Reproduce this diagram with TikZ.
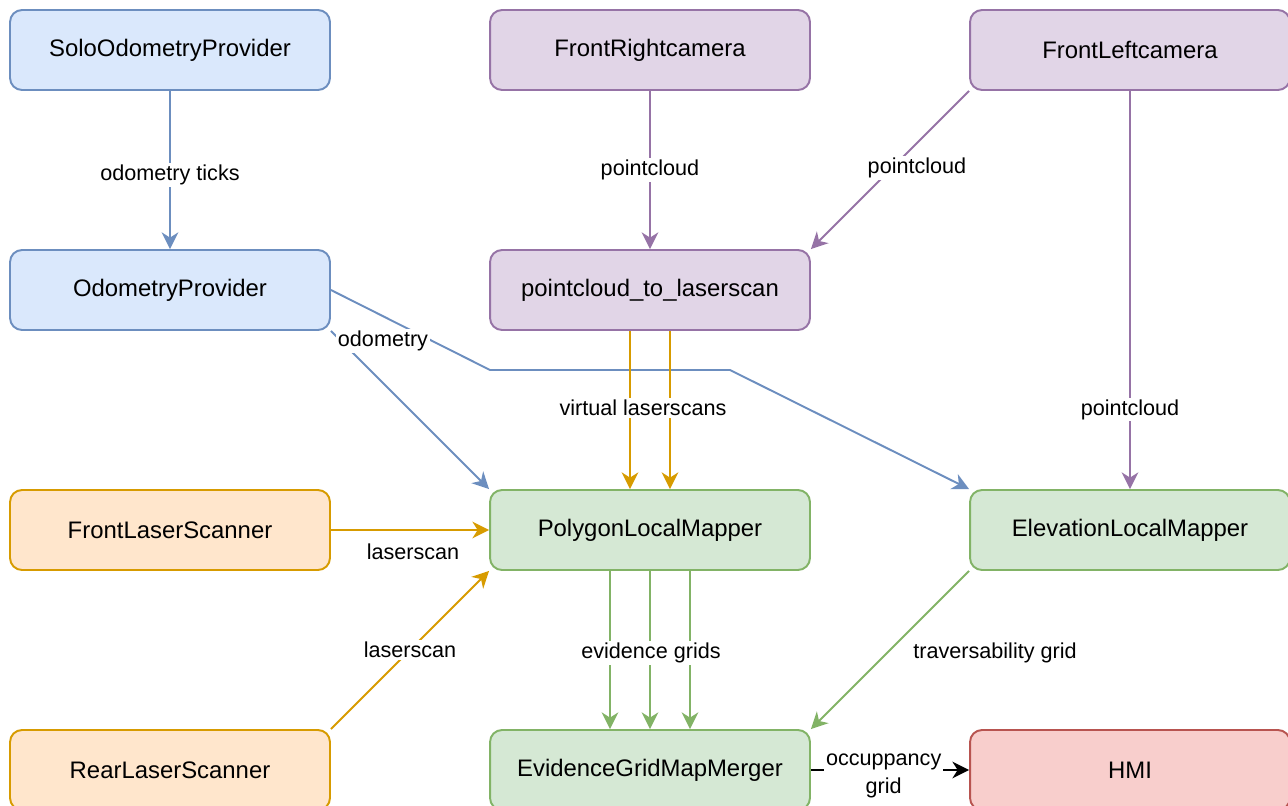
\documentclass[tikz,border=0pt]{standalone}
\usepackage{fontspec}
\setmainfont{Liberation Sans}
\usetikzlibrary{arrows.meta}

\definecolor{blueFill}{HTML}{DAE8FC}
\definecolor{blueLine}{HTML}{6C8EBF}
\definecolor{purpleFill}{HTML}{E1D5E7}
\definecolor{purpleLine}{HTML}{9673A6}
\definecolor{orangeFill}{HTML}{FFE6CC}
\definecolor{orangeLine}{HTML}{D79B00}
\definecolor{greenFill}{HTML}{D5E8D4}
\definecolor{greenLine}{HTML}{82B366}
\definecolor{redFill}{HTML}{F8CECC}
\definecolor{redLine}{HTML}{B85450}

\begin{document}
\begin{tikzpicture}[x=0.02cm, y=-0.02cm,
    box/.style={draw, rounded corners=0.24cm, line width=1.1pt, minimum width=6.4cm,
        minimum height=1.6cm, inner sep=0pt, font=\fontsize{13.6}{16}\selectfont},
    bluebox/.style={box, fill=blueFill, draw=blueLine},
    purplebox/.style={box, fill=purpleFill, draw=purpleLine},
    orangebox/.style={box, fill=orangeFill, draw=orangeLine},
    greenbox/.style={box, fill=greenFill, draw=greenLine},
    redbox/.style={box, fill=redFill, draw=redLine},
    flow/.style={line width=1.1pt, -{Stealth[length=9.5pt, width=9.5pt, inset=3pt]}},
    lbl/.style={fill=white, inner sep=1pt, font=\fontsize{12.3}{15.8}\selectfont, align=center}]
    \useasboundingbox (0,0) rectangle (1288,805);
    \clip (0,0) rectangle (1288,805);

    % Sources
    \node[bluebox] (solo) at (170,50) {SoloOdometryProvider};
    \node[purplebox] (frontright) at (650,50) {FrontRightcamera};
    \node[purplebox] (frontleft) at (1130,50) {FrontLeftcamera};

    % Preprocessing
    \node[bluebox] (odom) at (170,290) {OdometryProvider};
    \node[purplebox] (pc2scan) at (650,290) {pointcloud\_to\_laserscan};

    % Mappers
    \node[orangebox] (frontscan) at (170,530) {FrontLaserScanner};
    \node[greenbox] (polymap) at (650,530) {PolygonLocalMapper};
    \node[greenbox] (elevmap) at (1130,530) {ElevationLocalMapper};

    % Output
    \node[orangebox] (rearscan) at (170,770) {RearLaserScanner};
    \node[greenbox] (merger) at (650,770) {EvidenceGridMapMerger};
    \node[redbox] (hmi) at (1130,770) {HMI};

    \coordinate (bendA) at (490,370);
    \coordinate (bendB) at (730,370);

    % Arrows
    \draw[flow, blueLine] (solo) -- node[lbl, text=black, pos=0.53] {odometry ticks} (odom);
    \draw[flow, blueLine] (odom.south east) -- (polymap.north west);
    \draw[flow, blueLine] (odom.east) -- (bendA) -- (bendB) -- (elevmap.north west);
    \node[lbl] at (383,341) {odometry};

    \draw[flow, purpleLine] (frontright) -- node[lbl, text=black] {pointcloud} (pc2scan);
    \draw[flow, purpleLine] (frontleft.south west) -- (pc2scan.north east);
    \node[lbl] at (917,168) {pointcloud};
    \draw[flow, purpleLine] (frontleft) -- node[lbl, text=black, pos=0.80] {pointcloud} (elevmap);

    \draw[flow, orangeLine] ([xshift=-0.4cm]pc2scan.south) -- ([xshift=-0.4cm]polymap.north);
    \draw[flow, orangeLine] ([xshift=0.4cm]pc2scan.south) -- ([xshift=0.4cm]polymap.north);
    \node[lbl] at (643,408) {virtual laserscans};
    \draw[flow, orangeLine] (frontscan) -- (polymap);
    \node[lbl] at (413,552) {laserscan};
    \draw[flow, orangeLine] (rearscan.north east) -- node[lbl, text=black] {laserscan} (polymap.south west);

    \draw[flow, greenLine] ([xshift=-0.8cm]polymap.south) -- ([xshift=-0.8cm]merger.north);
    \draw[flow, greenLine] (polymap) -- (merger);
    \draw[flow, greenLine] ([xshift=0.8cm]polymap.south) -- ([xshift=0.8cm]merger.north);
    \node[lbl] at (651,653) {evidence grids};
    \draw[flow, greenLine] (elevmap.south west) -- (merger.north east);
    \node[lbl] at (995,653) {traversability grid};

    \draw[flow, black] (merger) -- node[lbl, pos=0.46, yshift=-0.12cm] {occuppancy\\grid} (hmi);
\end{tikzpicture}
\end{document}
